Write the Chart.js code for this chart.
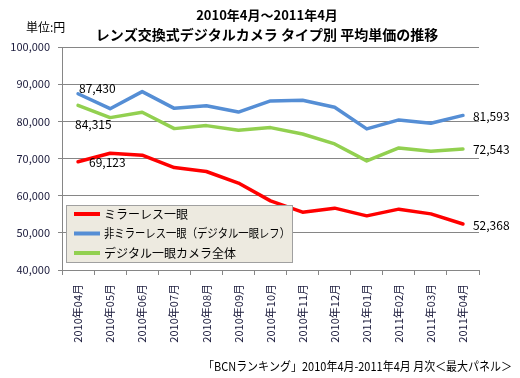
<!DOCTYPE html>
<html><head><meta charset="utf-8">
<script src="https://cdn.jsdelivr.net/npm/chart.js@4/dist/chart.umd.min.js"></script>
<style>html,body{margin:0;padding:0;background:#fff;}canvas{display:block;}</style>
</head><body>
<canvas id="c" width="520" height="378"></canvas>
<script>
const categories = ['2010年04月','2010年05月','2010年06月','2010年07月','2010年08月','2010年09月','2010年10月','2010年11月','2010年12月','2011年01月','2011年02月','2011年03月','2011年04月'];
const seriesNames = ['ミラーレス一眼','非ミラーレス一眼（デジタル一眼レフ）','デジタル一眼カメラ全体'];
const mirrorless = [69123,71400,70900,67550,66500,63400,58600,55560,56640,54570,56370,55100,52368];
const nonMirrorless = [87430,83400,88000,83500,84200,82500,85480,85660,83780,77960,80380,79480,81593];
const allCameras = [84315,81000,82440,78040,78850,77600,78310,76600,73920,69350,72850,71960,72543];
const seriesColors = ['#FF0000','#558ED5','#92D050'];
const yMin = 40000, yMax = 100000, yStep = 10000;
const titleLines = ['2010年4月～2011年4月','レンズ交換式デジタルカメラ タイプ別 平均単価の推移'];
const unitLabel = '単位:円';
const footerText = '「BCNランキング」2010年4月-2011年4月 月次＜最大パネル＞';

const FONT = '"Noto Sans CJK JP", "Noto Sans", sans-serif';
const fmt = v => v.toLocaleString('en-US');

const textPlugin = {
  id: 'texts',
  afterDraw(chart) {
    const ctx = chart.ctx, ca = chart.chartArea;
    ctx.save();
    ctx.fillStyle = '#000';
    ctx.textAlign = 'center';
    ctx.textBaseline = 'middle';
    ctx.font = 'bold 13px ' + FONT;
    ctx.fillText(titleLines[0], 267, 15, 150);
    ctx.font = 'bold 14px ' + FONT;
    ctx.fillText(titleLines[1], 267, 35, 350);
    ctx.font = '12px ' + FONT;
    ctx.textAlign = 'left';
    ctx.fillText(unitLabel, 26, 27);
    ctx.textAlign = 'right';
    ctx.fillText(footerText, 512, 366, 309);

    // data labels at first and last points
    ctx.font = '12px ' + FONT;
    const m = i => chart.getDatasetMeta(i).data;
    const last = categories.length - 1;
    ctx.textAlign = 'left';
    const p1 = m(1)[0]; ctx.fillText(fmt(nonMirrorless[0]), p1.x + 1, p1.y - 5);
    const p2 = m(2)[0]; ctx.fillText(fmt(allCameras[0]), p2.x - 3, p2.y + 19);
    const p0 = m(0)[0]; ctx.fillText(fmt(mirrorless[0]), p0.x + 11, p0.y + 1);
    const q1 = m(1)[last]; ctx.fillText(fmt(nonMirrorless[last]), q1.x + 10, q1.y + 1);
    const q2 = m(2)[last]; ctx.fillText(fmt(allCameras[last]), q2.x + 10, q2.y);
    const q0 = m(0)[last]; ctx.fillText(fmt(mirrorless[last]), q0.x + 10, q0.y + 1);

    // legend box inside plot area
    const lx = ca.left + 4, ly = 205, lw = 227, lh = 58;
    ctx.fillStyle = '#EDEAE0';
    ctx.fillRect(lx, ly, lw, lh);
    ctx.strokeStyle = '#A0A0A0';
    ctx.lineWidth = 1;
    ctx.strokeRect(lx + 0.5, ly + 0.5, lw - 1, lh - 1);
    chart.data.datasets.forEach((ds, i) => {
      const y = 214 + i * 19.5;
      ctx.strokeStyle = ds.borderColor;
      ctx.lineWidth = 4;
      ctx.beginPath(); ctx.moveTo(lx + 8, y); ctx.lineTo(lx + 34, y); ctx.stroke();
      ctx.fillStyle = '#000';
      ctx.font = '12px ' + FONT;
      ctx.textAlign = 'left';
      ctx.fillText(ds.label, lx + 38, y, 186);
    });
    ctx.restore();
  }
};

new Chart(document.getElementById('c'), {
  type: 'line',
  data: {
    labels: categories,
    datasets: [
      { label: seriesNames[0], data: mirrorless, borderColor: seriesColors[0] },
      { label: seriesNames[1], data: nonMirrorless, borderColor: seriesColors[1] },
      { label: seriesNames[2], data: allCameras, borderColor: seriesColors[2] }
    ].map(d => Object.assign(d, { borderWidth: 3.5, pointRadius: 0, tension: 0, fill: false, borderCapStyle: 'round', borderJoinStyle: 'round' }))
  },
  options: {
    responsive: false,
    animation: false,
    devicePixelRatio: 1,
    layout: { padding: { top: 47, right: 41, left: 0, bottom: 0 } },
    plugins: { legend: { display: false }, title: { display: false }, tooltip: { enabled: false } },
    scales: {
      x: {
        offset: true,
        afterFit: s => { s.height = 108; },
        grid: { offset: true, drawOnChartArea: false, drawTicks: true, tickLength: 5, color: '#868686' },
        border: { display: true, color: '#868686' },
        ticks: { minRotation: 90, maxRotation: 90, autoSkip: false, padding: 9, color: '#202040', font: { family: FONT, size: 11 } }
      },
      y: {
        min: yMin, max: yMax,
        afterFit: s => { s.width = 62; },
        grid: { color: '#868686', tickLength: 4 },
        border: { display: true, color: '#868686' },
        ticks: { stepSize: yStep, padding: 8, color: '#202040', font: { family: FONT, size: 11 }, callback: v => fmt(v) }
      }
    }
  },
  plugins: [textPlugin]
});
</script>
</body></html>
